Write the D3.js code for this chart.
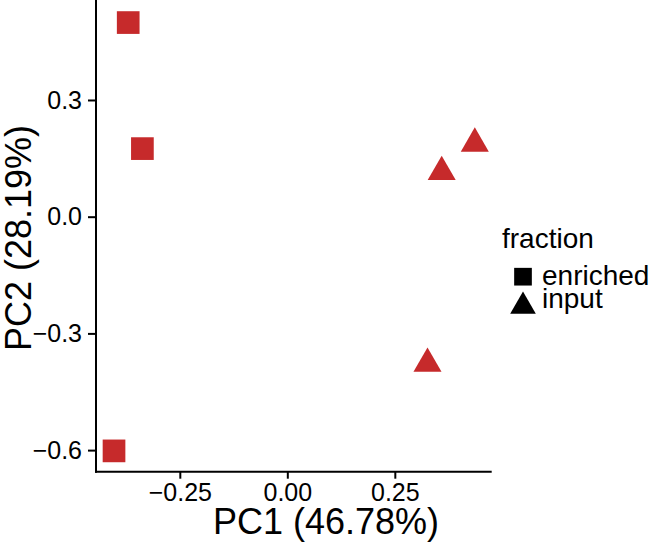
<!DOCTYPE html>
<html>
<head>
<meta charset="utf-8">
<script src="https://cdn.jsdelivr.net/npm/d3@7"></script>
<style>
  html, body { margin: 0; padding: 0; background: #fff; }
  svg text { font-family: "Liberation Sans", Arial, Helvetica, sans-serif; fill: #000; }
</style>
</head>
<body>
<svg id="chart" width="654" height="542"></svg>
<script>
// ---- data ----
const samplePC1 = [-0.370, -0.337, -0.403, 0.436, 0.359, 0.326];
const samplePC2 = [0.499, 0.175, -0.602, 0.188, 0.115, -0.378];
const sampleFraction = ["enriched", "enriched", "enriched", "input", "input", "input"];
const fractionLevels = ["enriched", "input"];
const xTickValues = [-0.25, 0.00, 0.25];
const xTickLabels = ["\u22120.25", "0.00", "0.25"];
const yTickValues = [-0.6, -0.3, 0.0, 0.3];
const yTickLabels = ["\u22120.6", "\u22120.3", "0.0", "0.3"];
const xTitle = "PC1 (46.78%)";
const yTitle = "PC2 (28.19%)";
const legendTitle = "fraction";

const pointColor = "#c62a2b";

const svg = d3.select("#chart");

const panelLeft = 96, panelRight = 491.7, panelTop = 0, panelBottom = 471.7;
const x = d3.scaleLinear().domain([-0.4449, 0.4753]).range([panelLeft, panelRight]);
const y = d3.scaleLinear().domain([-0.6555, 0.557]).range([panelBottom, panelTop]);

const shapeScale = d3.scaleOrdinal().domain(fractionLevels).range([d3.symbolSquare, d3.symbolTriangle]);
const plotSize = d3.scaleOrdinal().domain(fractionLevels).range([515, 341]);
const legendSize = d3.scaleOrdinal().domain(fractionLevels).range([313, 285]);

// axes
const xAxis = d3.axisBottom(x).tickValues(xTickValues)
  .tickFormat((d, i) => xTickLabels[i]).tickSize(7).tickSizeOuter(0).tickPadding(5);
const yAxis = d3.axisLeft(y).tickValues(yTickValues)
  .tickFormat((d, i) => yTickLabels[i]).tickSize(8).tickSizeOuter(0).tickPadding(6);

const gx = svg.append("g").attr("transform", `translate(0,${panelBottom})`).call(xAxis);
const gy = svg.append("g").attr("transform", `translate(${panelLeft},0)`).call(yAxis);

[gx, gy].forEach(g => {
  g.select(".domain").attr("stroke", "#000").attr("stroke-width", 2);
  g.selectAll(".tick line").attr("stroke", "#000").attr("stroke-width", 2);
  g.selectAll(".tick text").attr("font-size", 25).attr("fill", "#000")
    .attr("font-family", "'Liberation Sans', Arial, Helvetica, sans-serif");
});
gy.selectAll(".tick text").attr("dy", "0.33em");
gx.selectAll(".tick text").attr("dy", "0.71em");
gx.select(".domain").attr("d", `M${panelLeft - 1},0H${panelRight}`);
gy.select(".domain").attr("d", `M0,${panelBottom + 1}V${panelTop}`);

// points
const pts = samplePC1.map((v, i) => ({ pc1: v, pc2: samplePC2[i], fraction: sampleFraction[i] }));
svg.append("g").selectAll("path").data(pts).join("path")
  .attr("transform", d => `translate(${x(d.pc1)},${y(d.pc2)})`)
  .attr("d", d => d3.symbol().type(shapeScale(d.fraction)).size(plotSize(d.fraction))())
  .attr("fill", pointColor);

// axis titles
svg.append("text").attr("x", 326).attr("y", 534).attr("text-anchor", "middle")
  .attr("font-size", 36).text(xTitle);
svg.append("text").attr("transform", "translate(31,238) rotate(-90)").attr("text-anchor", "middle")
  .attr("font-size", 36).text(yTitle);

// legend
const lg = svg.append("g");
lg.append("text").attr("x", 502).attr("y", 248).attr("font-size", 28).text(legendTitle);
const keyCenterY = [276.7, 306.3];
const keyLabelY = [285, 308];
fractionLevels.forEach((f, i) => {
  lg.append("path")
    .attr("transform", `translate(523,${keyCenterY[i]})`)
    .attr("d", d3.symbol().type(shapeScale(f)).size(legendSize(f))())
    .attr("fill", "#000");
  lg.append("text").attr("x", 542).attr("y", keyLabelY[i]).attr("font-size", 28).text(f);
});
</script>
</body>
</html>
